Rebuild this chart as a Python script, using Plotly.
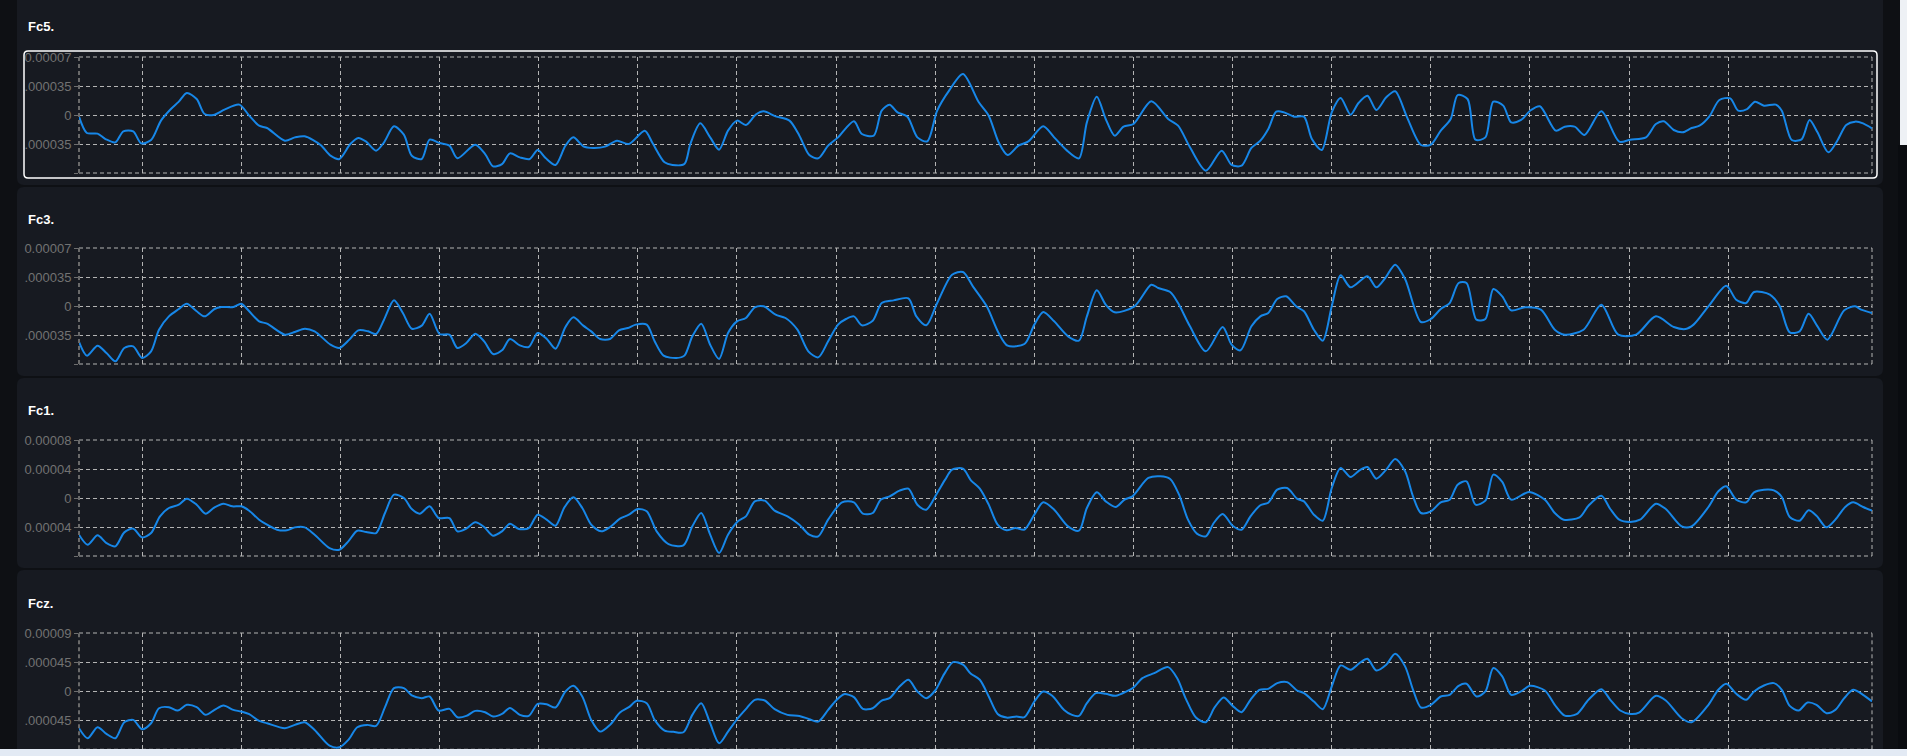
import numpy as np
import plotly.graph_objects as go

W, H = 1907, 756

# ---------------- data (time in s, amplitude in units of 1e-5) ----------------
fc5_t = [0.363,0.442,0.55,0.63,0.73,0.81,0.91,0.99,1.09,1.19,1.29,1.37,1.45,1.55,1.63,1.73,1.83,1.98,2.08,2.18,2.26,2.44,2.54,2.64,2.80,2.90,2.99,3.10,3.18,3.26,3.36,3.44,3.54,3.64,3.72,3.82,3.90,4.00,4.10,4.18,4.36,4.46,4.54,4.63,4.71,4.81,4.91,4.99,5.07,5.17,5.27,5.35,5.45,5.55,5.67,5.79,5.91,6.07,6.15,6.27,6.35,6.47,6.53,6.63,6.73,6.82,6.91,7.00,7.09,7.19,7.27,7.39,7.53,7.63,7.73,7.82,7.92,8.02,8.18,8.26,8.38,8.46,8.54,8.62,8.72,8.82,8.92,9.02,9.14,9.28,9.44,9.54,9.64,9.73,9.84,9.94,10.09,10.20,10.33,10.45,10.53,10.63,10.72,10.81,10.90,11.00,11.18,11.35,11.45,11.57,11.73,11.89,11.99,12.09,12.19,12.28,12.36,12.44,12.52,12.62,12.72,12.80,12.90,13.00,13.09,13.19,13.27,13.36,13.45,13.55,13.64,13.76,13.90,14.00,14.10,14.20,14.27,14.37,14.45,14.55,14.63,14.73,14.81,14.91,15.01,15.10,15.26,15.35,15.45,15.55,15.72,15.90,16.01,16.17,16.27,16.35,16.45,16.54,16.63,16.71,16.81,16.91,17.02,17.10,17.19,17.27,17.36,17.48,17.54,17.64,17.74,17.82,17.90,18.01,18.10,18.19,18.28,18.36,18.45]
fc5_v = [-0.20,-2.17,-2.25,-2.90,-3.30,-1.97,-1.97,-3.42,-3.02,-0.68,0.72,1.61,2.66,1.93,0.12,0.04,0.64,1.25,-0.08,-1.29,-1.57,-3.10,-2.70,-2.57,-3.62,-4.91,-5.31,-3.50,-2.78,-3.22,-4.30,-3.30,-1.37,-2.37,-4.91,-5.31,-2.98,-3.38,-3.70,-5.23,-3.58,-4.71,-6.20,-5.92,-4.63,-5.11,-5.31,-4.22,-5.19,-6.03,-3.70,-2.70,-3.78,-3.98,-3.82,-3.10,-3.50,-1.89,-3.42,-5.71,-6.03,-5.92,-3.50,-1.01,-2.70,-4.18,-1.89,-0.68,-1.21,0.04,0.44,-0.16,-0.68,-2.49,-4.83,-5.23,-3.70,-2.70,-0.76,-2.29,-2.49,0.52,1.25,0.32,-0.20,-2.70,-3.18,0.52,2.94,4.95,1.53,-0.08,-3.30,-4.83,-3.70,-3.18,-1.37,-2.70,-4.30,-5.23,-0.89,2.21,-0.48,-2.49,-1.41,-1.09,1.65,-0.48,-1.29,-3.90,-6.72,-4.30,-6.03,-6.12,-3.98,-3.10,-1.69,0.40,0.32,-0.20,-0.20,-2.90,-4.22,0.32,2.05,0.04,1.45,2.33,0.60,2.13,2.86,-0.28,-3.62,-3.58,-1.89,-0.48,2.41,1.93,-2.98,-2.70,1.61,1.13,-0.89,-0.60,0.60,1.05,-1.89,-1.41,-1.41,-2.41,0.44,-3.22,-2.98,-2.70,-1.09,-0.76,-1.81,-2.09,-1.57,-1.29,-0.16,1.81,2.01,0.52,0.72,1.61,1.13,1.25,0.52,-3.02,-2.94,-0.60,-2.09,-4.51,-3.10,-1.21,-0.80,-1.01,-1.61]

fc3_t = [0.363,0.442,0.55,0.64,0.73,0.82,0.91,1.00,1.09,1.17,1.27,1.37,1.45,1.55,1.63,1.73,1.80,1.92,2.00,2.08,2.18,2.26,2.44,2.54,2.64,2.74,2.90,2.99,3.09,3.18,3.28,3.36,3.44,3.54,3.63,3.72,3.82,3.90,4.00,4.10,4.18,4.27,4.36,4.45,4.54,4.63,4.71,4.81,4.90,4.99,5.08,5.17,5.27,5.35,5.45,5.53,5.62,5.72,5.81,5.90,5.98,6.09,6.17,6.26,6.39,6.47,6.55,6.64,6.73,6.82,6.91,7.00,7.09,7.18,7.27,7.39,7.49,7.61,7.72,7.82,7.92,8.02,8.10,8.18,8.26,8.37,8.46,8.58,8.73,8.81,8.91,9.02,9.17,9.28,9.38,9.52,9.64,9.73,9.90,10.00,10.09,10.20,10.34,10.45,10.53,10.63,10.72,10.81,11.01,11.18,11.25,11.37,11.45,11.57,11.73,11.90,11.99,12.08,12.19,12.28,12.36,12.45,12.54,12.64,12.72,12.82,12.91,13.00,13.09,13.19,13.36,13.45,13.54,13.64,13.74,13.90,14.00,14.10,14.19,14.28,14.36,14.46,14.55,14.63,14.72,14.81,14.95,15.11,15.25,15.35,15.54,15.72,15.89,16.07,16.27,16.45,16.57,16.65,16.80,16.98,17.08,17.18,17.26,17.42,17.52,17.62,17.72,17.81,17.90,18.00,18.17,18.28,18.34,18.45]
fc3_v = [-4.34,-5.99,-4.79,-5.67,-6.68,-5.07,-4.87,-6.28,-5.47,-2.86,-1.25,-0.36,0.28,-0.64,-1.25,-0.36,-0.12,-0.12,0.28,-0.64,-1.85,-2.13,-3.46,-3.14,-2.74,-3.06,-4.67,-5.07,-4.06,-2.94,-3.06,-3.38,-1.65,0.68,-0.84,-2.74,-2.37,-0.93,-3.38,-3.46,-5.07,-4.47,-3.34,-4.26,-5.79,-5.35,-3.98,-4.75,-4.95,-3.26,-3.94,-5.15,-2.53,-1.37,-2.37,-3.06,-3.98,-3.98,-2.94,-2.66,-2.25,-2.25,-4.26,-5.99,-6.28,-5.99,-3.66,-2.13,-4.67,-6.40,-3.26,-1.85,-1.45,-0.16,-0.04,-1.05,-1.45,-2.86,-5.47,-6.20,-4.26,-2.25,-1.57,-1.25,-2.33,-1.77,0.36,0.68,0.93,-1.25,-2.33,0.36,3.78,4.10,2.37,-0.04,-3.26,-4.79,-4.59,-2.25,-0.72,-1.85,-3.66,-4.18,-1.25,1.89,0.16,-0.76,-0.04,2.57,2.17,1.69,0.36,-2.45,-5.47,-2.53,-4.67,-5.35,-2.45,-1.25,-0.84,0.84,1.17,-0.04,-0.64,-2.86,-4.18,-0.04,3.70,2.25,3.58,2.25,3.38,4.99,3.26,-1.93,-1.57,-0.36,0.36,2.78,2.78,-1.65,-1.57,2.05,1.17,-0.52,-0.16,-0.44,-2.86,-3.46,-2.86,0.16,-3.46,-3.46,-1.25,-2.53,-2.78,-2.25,-0.04,2.45,0.76,0.36,1.69,1.37,-0.04,-3.18,-3.06,-0.93,-2.45,-4.06,-0.52,-0.04,-0.44,-0.84]

fc1_t = [0.363,0.45,0.55,0.64,0.73,0.82,0.91,1.00,1.09,1.18,1.27,1.37,1.45,1.55,1.64,1.73,1.82,1.91,2.00,2.08,2.18,2.26,2.36,2.46,2.54,2.64,2.74,2.89,2.99,3.08,3.17,3.26,3.36,3.45,3.54,3.64,3.72,3.80,3.90,3.99,4.10,4.18,4.27,4.36,4.45,4.54,4.63,4.71,4.80,4.90,4.99,5.08,5.17,5.26,5.35,5.44,5.53,5.63,5.72,5.82,5.91,6.00,6.09,6.19,6.31,6.46,6.55,6.64,6.73,6.82,6.91,7.01,7.09,7.18,7.28,7.38,7.51,7.63,7.73,7.82,7.92,8.06,8.18,8.27,8.37,8.45,8.54,8.64,8.73,8.82,8.91,9.02,9.10,9.17,9.28,9.36,9.45,9.54,9.63,9.72,9.81,9.90,10.00,10.09,10.20,10.34,10.45,10.53,10.63,10.72,10.82,10.91,10.99,11.15,11.27,11.37,11.46,11.55,11.64,11.73,11.81,11.90,12.00,12.09,12.18,12.28,12.36,12.45,12.55,12.65,12.72,12.82,12.91,13.00,13.09,13.19,13.28,13.36,13.45,13.55,13.64,13.74,13.82,13.90,14.00,14.10,14.19,14.27,14.36,14.45,14.55,14.63,14.72,14.81,14.99,15.15,15.25,15.34,15.50,15.59,15.72,15.81,15.90,16.01,16.11,16.27,16.37,16.53,16.63,16.80,16.90,16.98,17.08,17.18,17.26,17.36,17.46,17.54,17.62,17.72,17.81,17.89,17.99,18.08,18.18,18.26,18.36,18.45]
fc1_v = [-5.06,-6.44,-5.15,-6.21,-6.67,-4.74,-4.23,-5.43,-4.83,-2.53,-1.38,-0.92,-0.09,-0.92,-2.16,-1.29,-0.78,-1.15,-1.15,-1.75,-2.99,-3.68,-4.37,-4.46,-4.05,-4.05,-5.06,-6.90,-7.13,-5.98,-4.51,-4.69,-4.83,-2.07,0.46,0.00,-1.52,-2.16,-1.15,-2.76,-2.76,-4.60,-4.23,-3.36,-4.00,-5.20,-4.60,-3.54,-4.28,-4.14,-2.30,-2.99,-3.82,-1.29,0.09,-1.38,-3.68,-4.60,-4.00,-2.85,-2.30,-1.52,-1.84,-4.60,-6.35,-6.53,-3.91,-2.07,-5.06,-7.59,-5.06,-3.22,-2.53,-0.46,-0.37,-1.75,-2.53,-3.68,-5.06,-5.29,-2.99,-0.60,-0.60,-2.16,-2.07,-0.23,0.23,1.01,1.29,-0.92,-1.61,0.69,2.53,3.91,4.05,2.44,1.29,-0.92,-3.68,-4.46,-4.14,-4.37,-2.30,-0.60,-1.61,-3.91,-4.51,-1.38,0.78,-0.46,-1.24,-0.23,0.23,2.76,2.99,2.62,0.46,-2.99,-4.92,-5.29,-3.45,-2.21,-3.82,-4.37,-2.53,-1.00,-0.65,1.15,1.38,-0.09,-0.46,-2.30,-3.13,1.38,4.14,2.90,3.82,4.28,2.67,3.91,5.38,3.68,0.23,-2.07,-1.84,-0.60,-0.23,1.84,2.30,-0.92,-0.37,3.22,2.21,-0.23,0.83,-0.23,-2.07,-2.99,-2.67,-1.06,0.32,-1.52,-2.99,-3.31,-2.99,-0.78,-1.52,-3.91,-3.91,-1.24,0.92,1.61,-0.23,-0.60,0.78,1.15,1.06,0.14,-2.62,-3.13,-1.70,-2.44,-4.05,-2.99,-1.24,-0.60,-1.24,-1.75]

fcz_t = [0.363,0.45,0.55,0.64,0.73,0.82,0.91,1.00,1.09,1.17,1.27,1.36,1.45,1.55,1.64,1.73,1.82,1.92,2.00,2.08,2.18,2.26,2.44,2.54,2.64,2.74,2.89,2.99,3.08,3.17,3.27,3.36,3.45,3.54,3.64,3.72,3.82,3.90,3.99,4.10,4.18,4.27,4.36,4.46,4.54,4.63,4.71,4.81,4.90,4.99,5.08,5.17,5.27,5.35,5.44,5.53,5.62,5.72,5.82,5.91,5.99,6.09,6.17,6.27,6.36,6.46,6.55,6.64,6.73,6.82,6.91,7.01,7.09,7.18,7.28,7.38,7.51,7.63,7.73,7.82,7.92,8.00,8.08,8.18,8.27,8.37,8.46,8.54,8.64,8.73,8.82,8.91,9.00,9.09,9.18,9.28,9.36,9.45,9.54,9.63,9.72,9.82,9.90,10.00,10.09,10.18,10.30,10.38,10.45,10.53,10.62,10.72,10.82,10.93,11.00,11.09,11.21,11.35,11.44,11.53,11.63,11.73,11.82,11.91,12.00,12.09,12.18,12.27,12.36,12.45,12.55,12.65,12.72,12.82,12.91,13.00,13.09,13.19,13.28,13.36,13.45,13.55,13.64,13.74,13.82,13.90,14.00,14.10,14.19,14.28,14.36,14.46,14.55,14.63,14.72,14.81,14.91,15.00,15.15,15.25,15.35,15.47,15.59,15.72,15.81,15.91,16.01,16.10,16.27,16.37,16.53,16.63,16.80,16.90,16.98,17.08,17.18,17.26,17.36,17.46,17.54,17.62,17.71,17.80,17.89,17.99,18.08,18.17,18.26,18.36,18.45]
fcz_v = [-5.74,-7.29,-5.59,-6.62,-7.29,-4.81,-4.45,-5.90,-4.97,-2.64,-2.48,-3.00,-2.12,-2.48,-3.67,-2.90,-2.22,-2.90,-3.16,-3.57,-4.60,-4.97,-5.74,-5.22,-4.81,-6.00,-8.43,-8.69,-7.55,-5.59,-5.22,-5.38,-2.48,0.47,0.47,-0.67,-1.09,-0.83,-3.00,-2.74,-4.03,-3.83,-3.05,-3.26,-3.93,-3.52,-2.59,-3.67,-3.83,-1.97,-2.02,-2.53,-0.05,0.83,-0.83,-4.45,-6.26,-5.22,-3.31,-2.48,-1.50,-1.86,-4.45,-6.10,-6.30,-6.36,-3.67,-1.86,-4.97,-8.07,-6.26,-4.19,-2.79,-1.34,-1.45,-2.79,-3.67,-3.83,-4.34,-4.71,-2.90,-1.45,-0.47,-0.93,-2.74,-2.64,-1.45,-1.09,0.72,1.76,-0.05,-1.09,0.10,2.64,4.50,4.09,2.69,1.76,-0.83,-3.52,-4.09,-3.93,-4.03,-1.60,-0.05,-0.72,-2.90,-3.67,-3.83,-1.86,-0.31,-0.41,-0.72,-0.05,0.57,2.02,2.79,3.72,2.02,-1.24,-4.09,-4.81,-2.48,-0.98,-2.28,-3.26,-1.34,0.21,0.36,1.24,1.40,0.10,-0.31,-1.60,-2.79,0.72,3.98,3.31,4.34,5.02,3.21,4.09,5.79,3.83,0.21,-2.53,-2.12,-0.83,-0.57,0.83,1.14,-0.83,-0.05,3.57,2.28,-0.57,-0.05,0.83,0.10,-2.12,-3.78,-3.57,-1.34,0.31,-1.34,-3.00,-3.52,-3.31,-0.72,-1.45,-4.19,-4.81,-2.12,0.21,1.14,-0.41,-1.34,-0.05,0.88,1.24,0.21,-2.28,-3.00,-1.76,-2.12,-3.41,-2.90,-1.09,0.21,-0.57,-1.60]

channels = ["Fc5.", "Fc3.", "Fc1.", "Fcz."]
series_t = [fc5_t, fc3_t, fc1_t, fcz_t]
series_v = [fc5_v, fc3_v, fc1_v, fcz_v]
y_max = [7e-5, 7e-5, 8e-5, 9e-5]
tick_text = [
    ["", ".000035", "0", ".000035", "0.00007"],
    ["", ".000035", "0", ".000035", "0.00007"],
    ["", "0.00004", "0", "0.00004", "0.00008"],
    ["", ".000045", "0", ".000045", "0.00009"],
]
x_start, x_end = 0.363, 18.45
x_grid = list(range(1, 18))

# ---------------- layout geometry (pixels) ----------------
PAGE_BG = "#0e1014"
CARD_BG = "#171a21"
LINE = "#1787e8"
GRID = "#b4b4b4"
DASH = "4px,3px"
plot_l, plot_r = 79, 1872
plot_rows = [(57, 173), (248, 364), (440, 556), (633, 749.3)]
title_y = [27, 219, 411, 603]
cards = [(-12, 185), (187, 376), (378, 568), (570, 790)]


def px(x):
    return x / W


def py(y):
    return 1 - y / H


def rrect(x0, y0, x1, y1, r):
    return (
        f"M {px(x0 + r)},{py(y0)} L {px(x1 - r)},{py(y0)} Q {px(x1)},{py(y0)} {px(x1)},{py(y0 + r)} "
        f"L {px(x1)},{py(y1 - r)} Q {px(x1)},{py(y1)} {px(x1 - r)},{py(y1)} "
        f"L {px(x0 + r)},{py(y1)} Q {px(x0)},{py(y1)} {px(x0)},{py(y1 - r)} "
        f"L {px(x0)},{py(y0 + r)} Q {px(x0)},{py(y0)} {px(x0 + r)},{py(y0)} Z"
    )


fig = go.Figure()
shapes = []
annotations = []

for (c0, c1) in cards:
    shapes.append(dict(type="path", xref="paper", yref="paper", layer="below",
                       path=rrect(17, c0, 1883, c1, 7), fillcolor=CARD_BG, line=dict(width=0)))

font_family = "Liberation Sans, Arial, sans-serif"

for i in range(4):
    n = "" if i == 0 else str(i + 1)
    xa, ya = "x" + n, "y" + n
    top, bot = plot_rows[i]
    m = y_max[i]
    fig.add_trace(go.Scatter(
        x=series_t[i], y=np.array(series_v[i]) * 1e-5, xaxis=xa, yaxis=ya,
        mode="lines", line=dict(color=LINE, width=2, shape="spline", smoothing=0.8),
        hoverinfo="skip", showlegend=False))
    fig.layout["xaxis" + n] = dict(
        domain=[px(plot_l), px(plot_r)], anchor=ya, range=[x_start, x_end],
        tickmode="array", tickvals=x_grid, showticklabels=False, ticks="",
        showgrid=True, gridcolor=GRID, gridwidth=1, griddash=DASH,
        zeroline=False, showline=False, fixedrange=True, automargin=False)
    fig.layout["yaxis" + n] = dict(
        domain=[py(bot), py(top)], anchor=xa, range=[-m, m],
        tickmode="array", tickvals=[-m, -m / 2, 0, m / 2, m], ticktext=tick_text[i],
        ticks="outside", ticklen=4, tickcolor="#6e6e6e", tickwidth=1,
        tickfont=dict(family=font_family, size=13, color="#727272"),
        showgrid=True, gridcolor=GRID, gridwidth=1, griddash=DASH,
        zeroline=False, showline=False, fixedrange=True, automargin=False)
    xd, yd = xa + " domain", ya + " domain"
    # dashed plot-area border (top, bottom, right) like the grid
    for (x0, x1, y0, y1) in [(0, 1, 1, 1), (0, 1, 0, 0), (1, 1, 0, 1)]:
        shapes.append(dict(type="line", xref=xd, yref=yd, x0=x0, x1=x1, y0=y0, y1=y1,
                           layer="below", line=dict(color=GRID, width=1, dash=DASH)))
    # left axis line (dashed, darker)
    shapes.append(dict(type="line", xref=xd, yref=yd, x0=0, x1=0, y0=0, y1=1, layer="above",
                       line=dict(color="#6a6a6a", width=2, dash=DASH)))
    annotations.append(dict(text="<b>" + channels[i] + "</b>", xref="paper", yref="paper",
                            x=px(26), y=py(title_y[i]), xanchor="left", yanchor="middle",
                            showarrow=False, font=dict(family=font_family, size=13, color="#ffffff")))

shapes.append(dict(type="path", xref="paper", yref="paper", layer="above",
                   path=rrect(24, 51, 1877, 178, 4), fillcolor="rgba(0,0,0,0)",
                   line=dict(color="#ffffff", width=1.5)))
shapes.append(dict(type="rect", xref="paper", yref="paper", layer="above",
                   x0=0, x1=1, y0=0, y1=py(749), fillcolor="#e3eaf4", line=dict(width=0)))
shapes.append(dict(type="rect", xref="paper", yref="paper", layer="above",
                   x0=px(1900), x1=1, y0=py(145), y1=1, fillcolor="#eef1f5", line=dict(width=0)))
shapes.append(dict(type="rect", xref="paper", yref="paper", layer="above",
                   x0=px(1898), x1=1, y0=py(749), y1=py(145), fillcolor="#0a0c10", line=dict(width=0)))

fig.update_layout(
    width=W, height=H, margin=dict(l=0, r=0, t=0, b=0, pad=0, autoexpand=False),
    paper_bgcolor=PAGE_BG, plot_bgcolor="rgba(0,0,0,0)",
    shapes=shapes, annotations=annotations, showlegend=False,
    font=dict(family=font_family),
)

fig.write_html("out.html", config={"displayModeBar": False})
